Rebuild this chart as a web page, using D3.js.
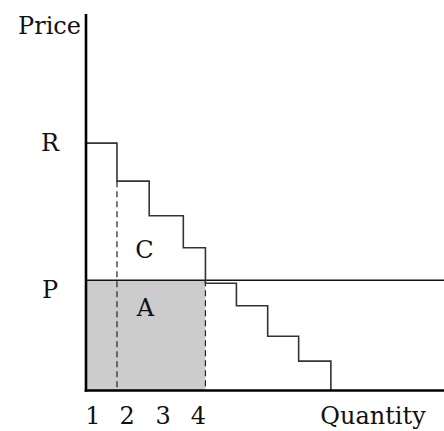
<!DOCTYPE html>
<html>
<head>
<meta charset="utf-8">
<script src="https://cdn.jsdelivr.net/npm/d3@7"></script>
<style>
  html, body { margin: 0; padding: 0; background: #fff; }
  svg { display: block; }
  text { font-family: "DejaVu Serif", serif; fill: #111; }
</style>
</head>
<body>
<svg id="chart" width="444" height="431"></svg>
<script>
// Step boundaries along the quantity axis (in quantity units)
const stepEdges = [0, 0.98, 2.0, 3.08, 3.78, 4.76, 5.75, 6.73, 7.75];
// Price (height) of each step
const stepPrices = [6.57, 5.56, 4.64, 3.79, 2.85, 2.25, 1.44, 0.78];
// Market price P and reservation price R
const priceP = 2.93;
const priceR = 6.57;
// Tick labels on quantity axis and their positions
const qtyLabels = ["1", "2", "3", "4"];
const qtyLabelPos = [0.22, 1.30, 2.44, 3.56];
// Price-axis labels
const priceLabels = ["R", "P"];
const priceLabelValues = [priceR, priceP];
const priceLabelOffsets = [8, 18];
// Area labels
const areaLabels = ["C", "A"];
const areaLabelQ = [1.85, 1.88];
const areaLabelP = [3.52, 1.98];

const svg = d3.select("#chart");
const x = d3.scaleLinear().domain([0, 11.33]).range([86, 444]);
const y = d3.scaleLinear().domain([0, 10]).range([390.5, 14]);

// Shaded area A (0..Q at price P)
const qAtP = stepEdges[4];
svg.append("rect")
  .attr("x", x(0)).attr("y", y(priceP))
  .attr("width", x(qAtP) - x(0)).attr("height", y(0) - y(priceP))
  .attr("fill", "#cccccc");

// Horizontal price line P
svg.append("line")
  .attr("x1", x(0)).attr("x2", x(11.33))
  .attr("y1", y(priceP)).attr("y2", y(priceP))
  .attr("stroke", "#111").attr("stroke-width", 1.5);

// Dashed verticals
svg.append("line")
  .attr("x1", x(stepEdges[1])).attr("x2", x(stepEdges[1]))
  .attr("y1", y(stepPrices[1])).attr("y2", y(0))
  .attr("stroke", "#222").attr("stroke-width", 1.2)
  .attr("stroke-dasharray", "6,4");
svg.append("line")
  .attr("x1", x(qAtP)).attr("x2", x(qAtP))
  .attr("y1", y(priceP)).attr("y2", y(0))
  .attr("stroke", "#222").attr("stroke-width", 1.2)
  .attr("stroke-dasharray", "6,4");

// Step demand curve
const pts = [];
stepPrices.forEach((p, i) => {
  pts.push([stepEdges[i], p]);
  pts.push([stepEdges[i + 1], p]);
});
pts.push([stepEdges[stepEdges.length - 1], 0]);
svg.append("path")
  .attr("d", d3.line().x(d => x(d[0])).y(d => y(d[1]))(pts))
  .attr("fill", "none").attr("stroke", "#333").attr("stroke-width", 1.6);

// Axes
svg.append("line")
  .attr("x1", x(0)).attr("x2", x(0))
  .attr("y1", y(10)).attr("y2", y(0) + 1.3)
  .attr("stroke", "#000").attr("stroke-width", 2.6);
svg.append("line")
  .attr("x1", x(0) - 1.3).attr("x2", x(11.33))
  .attr("y1", y(0)).attr("y2", y(0))
  .attr("stroke", "#000").attr("stroke-width", 2.6);

const fs = 24;
// Axis titles
svg.append("text").attr("x", 81).attr("y", 34)
  .attr("text-anchor", "end").attr("font-size", fs).text("Price");
svg.append("text").attr("x", 373).attr("y", 424)
  .attr("text-anchor", "middle").attr("font-size", fs).text("Quantity");

// Price labels
svg.selectAll(".plab").data(priceLabels).enter().append("text")
  .attr("class", "plab")
  .attr("x", 50).attr("y", (d, i) => y(priceLabelValues[i]) + priceLabelOffsets[i])
  .attr("text-anchor", "middle").attr("font-size", fs)
  .text(d => d);

// Quantity tick labels
svg.selectAll(".qlab").data(qtyLabels).enter().append("text")
  .attr("class", "qlab")
  .attr("x", (d, i) => x(qtyLabelPos[i])).attr("y", 424)
  .attr("text-anchor", "middle").attr("font-size", fs)
  .text(d => d);

// Area labels
svg.selectAll(".alab").data(areaLabels).enter().append("text")
  .attr("class", "alab")
  .attr("x", (d, i) => x(areaLabelQ[i])).attr("y", (d, i) => y(areaLabelP[i]))
  .attr("text-anchor", "middle").attr("font-size", fs)
  .text(d => d);
</script>
</body>
</html>
